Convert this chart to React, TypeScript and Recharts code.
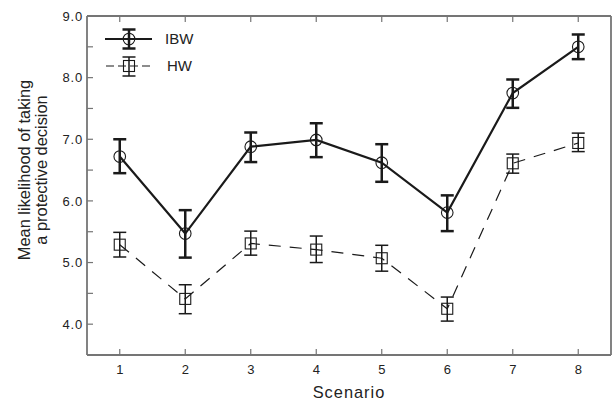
import React from 'react';
import { ComposedChart, Line, XAxis, YAxis, ErrorBar, Legend } from 'recharts';

const scenarios = [1, 2, 3, 4, 5, 6, 7, 8];
const ibwMean = [6.72, 5.47, 6.88, 6.99, 6.62, 5.81, 7.75, 8.5];
const ibwLow = [6.45, 5.08, 6.63, 6.71, 6.31, 5.51, 7.51, 8.3];
const ibwHigh = [7.0, 5.85, 7.11, 7.26, 6.92, 6.09, 7.97, 8.7];
const hwMean = [5.29, 4.41, 5.31, 5.21, 5.07, 4.25, 6.61, 6.94];
const hwLow = [5.09, 4.17, 5.12, 5.0, 4.86, 4.05, 6.45, 6.8];
const hwHigh = [5.49, 4.64, 5.51, 5.43, 5.28, 4.44, 6.76, 7.1];

const xTicks = [1, 2, 3, 4, 5, 6, 7, 8];
const yTicks = [4, 4.5, 5, 5.5, 6, 6.5, 7, 7.5, 8, 8.5, 9];
const seriesNames = ['IBW', 'HW'];

const data = scenarios.map((s, i) => ({
  scenario: s,
  ibw: ibwMean[i],
  ibwErr: [ibwMean[i] - ibwLow[i], ibwHigh[i] - ibwMean[i]],
  hw: hwMean[i],
  hwErr: [hwMean[i] - hwLow[i], hwHigh[i] - hwMean[i]],
}));

const FONT = '"Liberation Sans", Arial, sans-serif';
const FRAME = '#757575';
const INK = '#1a1a1a';
const TEXT = '#222';
const TICK_LEN = 6;

const fmtY = (v: number) => (Number.isInteger(v) ? v.toFixed(1) : '');

function LeftTick(props: any) {
  const { x, y, payload } = props;
  const ax = x + 4;
  const label = fmtY(payload.value);
  return (
    <g>
      <line x1={ax} x2={ax + TICK_LEN} y1={y} y2={y} stroke={FRAME} strokeWidth={1.2} />
      {label && (
        <text x={x} y={y} dy="0.36em" textAnchor="end" fontSize={13} fontFamily={FONT} fill={TEXT} letterSpacing={0.8}>
          {label}
        </text>
      )}
    </g>
  );
}

function RightTick(props: any) {
  const { x, y } = props;
  return <line x1={x} x2={x - TICK_LEN} y1={y} y2={y} stroke={FRAME} strokeWidth={1.2} />;
}

function BottomTick(props: any) {
  const { x, y, payload } = props;
  const ay = y - 10;
  return (
    <g>
      <line x1={x} x2={x} y1={ay} y2={ay - TICK_LEN} stroke={FRAME} strokeWidth={1.2} />
      <text x={x} y={y} dy="0.71em" textAnchor="middle" fontSize={13} fontFamily={FONT} fill={TEXT}>
        {String(payload.value)}
      </text>
    </g>
  );
}

function TopTick(props: any) {
  const { x, y } = props;
  return <line x1={x} x2={x} y1={y} y2={y + TICK_LEN} stroke={FRAME} strokeWidth={1.2} />;
}

function YLabel(props: any) {
  const vb = props.viewBox || { x: 0, y: 16, width: 87, height: 339 };
  const cy = vb.y + vb.height / 2 - 15.5;
  const x1 = vb.x + 29.5;
  const x2 = vb.x + 47;
  return (
    <g fontFamily={FONT} fontSize={16.4} fill={TEXT}>
      <text x={x1} y={cy} textAnchor="middle" transform={`rotate(-90 ${x1} ${cy})`}>
        Mean likelihood of taking
      </text>
      <text x={x2} y={cy} textAnchor="middle" transform={`rotate(-90 ${x2} ${cy})`}>
        a protective decision
      </text>
    </g>
  );
}

function XLabel(props: any) {
  const vb = props.viewBox || { x: 87, y: 355, width: 524, height: 45 };
  return (
    <text x={vb.x + vb.width / 2} y={vb.y + 43} textAnchor="middle" fontFamily={FONT} fontSize={16.4} fill={TEXT} letterSpacing={1}>
      Scenario
    </text>
  );
}

function SquareDot(props: any) {
  const { cx, cy, index } = props;
  if (cx == null || cy == null) return <g key={`sq-${index}`} />;
  return <rect key={`sq-${index}`} x={cx - 5.5} y={cy - 5.5} width={11} height={11} fill="none" stroke={INK} strokeWidth={1.1} />;
}

function LegendContent() {
  return (
    <svg width={200} height={90} style={{ display: 'block' }}>
      <g>
        <line x1={105} x2={152} y1={39} y2={39} stroke={INK} strokeWidth={2.2} />
        <circle cx={129} cy={39} r={5.8} fill="none" stroke={INK} strokeWidth={1.1} />
        <line x1={129} x2={129} y1={29.5} y2={48.5} stroke={INK} strokeWidth={2.5} />
        <line x1={122.5} x2={135.5} y1={29.5} y2={29.5} stroke={INK} strokeWidth={2.5} />
        <line x1={122.5} x2={135.5} y1={48.5} y2={48.5} stroke={INK} strokeWidth={2.5} />
        <text x={165} y={39} dy="0.36em" fontFamily={FONT} fontSize={15} fill={TEXT}>
          {seriesNames[0]}
        </text>
      </g>
      <g>
        <line x1={106} x2={152} y1={66} y2={66} stroke={INK} strokeWidth={1.2} strokeDasharray="8 4" />
        <rect x={123.5} y={60.5} width={11} height={11} fill="none" stroke={INK} strokeWidth={1.1} />
        <line x1={129} x2={129} y1={57} y2={76} stroke={INK} strokeWidth={1.5} />
        <line x1={122.5} x2={135.5} y1={57} y2={57} stroke={INK} strokeWidth={1.5} />
        <line x1={122.5} x2={135.5} y1={76} y2={76} stroke={INK} strokeWidth={1.5} />
        <text x={167} y={66} dy="0.36em" fontFamily={FONT} fontSize={15} fill={TEXT}>
          {seriesNames[1]}
        </text>
      </g>
    </svg>
  );
}

export default function App() {
  return (
    <div style={{ position: 'absolute', left: 0, top: 0, background: '#fff' }}>
      <ComposedChart width={614} height={400} data={data} margin={{ top: 15, right: 2, bottom: 0, left: 0 }}>
        <XAxis
          dataKey="scenario"
          type="number"
          domain={[0.5, 8.5]}
          ticks={xTicks}
          interval={0}
          height={45}
          tickSize={0}
          tickMargin={10}
          tickLine={false}
          tick={<BottomTick />}
          axisLine={{ stroke: FRAME, strokeWidth: 1.8 }}
          label={{ content: <XLabel /> }}
        />
        <XAxis
          xAxisId="top"
          orientation="top"
          dataKey="scenario"
          type="number"
          domain={[0.5, 8.5]}
          ticks={xTicks}
          interval={0}
          height={1}
          tickSize={0}
          tickMargin={0}
          tickLine={false}
          tick={<TopTick />}
          axisLine={{ stroke: FRAME, strokeWidth: 1.8 }}
        />
        <YAxis
          type="number"
          domain={[3.5, 9]}
          ticks={yTicks}
          interval={0}
          width={87}
          tickSize={0}
          tickMargin={4}
          tickLine={false}
          tick={<LeftTick />}
          axisLine={{ stroke: FRAME, strokeWidth: 1.8 }}
          label={{ content: <YLabel /> }}
        />
        <YAxis
          yAxisId="right"
          orientation="right"
          type="number"
          domain={[3.5, 9]}
          ticks={yTicks}
          interval={0}
          width={1}
          tickSize={0}
          tickMargin={0}
          tickLine={false}
          tick={<RightTick />}
          axisLine={{ stroke: FRAME, strokeWidth: 1.8 }}
        />
        <Legend
          content={<LegendContent />}
          layout="horizontal"
          verticalAlign="middle"
          align="center"
          wrapperStyle={{ left: 0, top: 0, width: 200, height: 90 }}
        />
        <Line
          type="linear"
          dataKey="hw"
          name={seriesNames[1]}
          stroke={INK}
          strokeWidth={1.2}
          strokeDasharray="12 9"
          dot={<SquareDot />}
          activeDot={false}
          isAnimationActive={false}
        >
          <ErrorBar dataKey="hwErr" direction="y" width={6.5} stroke={INK} strokeWidth={1.5} />
        </Line>
        <Line
          type="linear"
          dataKey="ibw"
          name={seriesNames[0]}
          stroke={INK}
          strokeWidth={2.2}
          dot={{ r: 5.8, fill: 'none', stroke: INK, strokeWidth: 1.1 }}
          activeDot={false}
          isAnimationActive={false}
        >
          <ErrorBar dataKey="ibwErr" direction="y" width={6.5} stroke={INK} strokeWidth={2.5} />
        </Line>
      </ComposedChart>
    </div>
  );
}
